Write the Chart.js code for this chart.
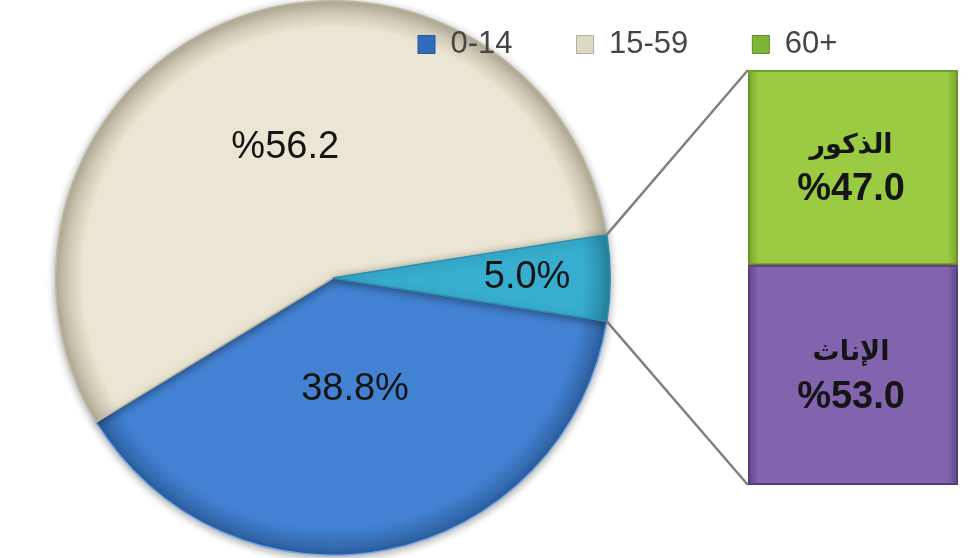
<!DOCTYPE html>
<html><head><meta charset="utf-8">
<script src="https://cdn.jsdelivr.net/npm/chart.js@4.4.1/dist/chart.umd.min.js"></script>
<style>
html,body{margin:0;padding:0;background:#fff;overflow:hidden}
#wrap{position:relative;width:970px;height:558px}
#wrap canvas{position:absolute;left:0;top:0}
</style></head><body>
<div id="wrap"><canvas id="pie" width="970" height="558"></canvas><canvas id="bar" width="970" height="558"></canvas></div>
<script>
// ---- data ----
const ageGroups = ['0-14', '15-59', '60+'];
const ageShares = [38.8, 56.2, 5.0];
const sexGroups = ['الإناث', 'الذكور'];
const sexShares = [53.0, 47.0];

// ---- styles ----
const pieColors = ['#4382d2', '#ebe6d3', '#37aecf'];
const pieRim = ['#2c5e9f', '#b4ae98', '#25829d'];
const pieBorders = ['#6fa6ea', '#bfb9a2', '#2a8fae'];
const legendColors = ['#2f6cbc', '#dcd8c6', '#7db534'];
const legendBorders = ['#25589b', '#b5b09c', '#5f8c25'];
const barColors = ['#8263ad', '#9bcb42'];
const barEdge = ['#5e4586', '#76a22c'];
const barTop = ['#a188c6', '#b6df62'];
const pieLabelRadius = [0.41, 0.5, 0.70];
const pieSignFirst = [false, true, false];
const FONT = '"Liberation Sans", Arial, sans-serif';

function fmt(v, signFirst) { return signFirst ? '%' + v.toFixed(1) : v.toFixed(1) + '%'; }

const pieShadow = {
  id: 'pieShadow',
  beforeDatasetsDraw(chart) {
    const c = chart.ctx; c.save();
    c.shadowColor = 'rgba(0,0,0,0.35)'; c.shadowBlur = 9; c.shadowOffsetX = 0; c.shadowOffsetY = 2;
  },
  afterDatasetsDraw(chart) {
    const c = chart.ctx; c.restore();
    const meta = chart.getDatasetMeta(0);
    c.save();
    c.font = '38px ' + FONT; c.fillStyle = '#141414'; c.textAlign = 'center'; c.textBaseline = 'middle';
    meta.data.forEach((arc, i) => {
      const p = arc.getProps(['x', 'y', 'startAngle', 'endAngle', 'outerRadius'], true);
      const mid = (p.startAngle + p.endAngle) / 2;
      const r = p.outerRadius * pieLabelRadius[i];
      c.fillText(fmt(ageShares[i], pieSignFirst[i]), p.x + r * Math.cos(mid), p.y + r * Math.sin(mid));
    });
    c.restore();
  }
};

const pieChart = new Chart(document.getElementById('pie'), {
  type: 'pie',
  data: {
    labels: ageGroups,
    datasets: [{
      data: ageShares,
      backgroundColor: (ctx) => {
        const a = ctx.chart.chartArea; const i = ctx.dataIndex;
        if (!a) return pieColors[i];
        const cx = (a.left + a.right) / 2, cy = (a.top + a.bottom) / 2;
        const R = Math.min(a.right - a.left, a.bottom - a.top) / 2;
        const g = ctx.chart.ctx.createRadialGradient(cx, cy, 0, cx, cy, R);
        g.addColorStop(0, pieColors[i]);
        g.addColorStop(0.9, pieColors[i]);
        g.addColorStop(1, pieRim[i]);
        return g;
      },
      borderColor: pieBorders,
      borderWidth: 1.5
    }]
  },
  options: {
    responsive: false, animation: false, devicePixelRatio: 1,
    rotation: 99,
    layout: { padding: { left: 55, right: 359, top: 0, bottom: 2 } },
    plugins: { legend: { display: false }, tooltip: { enabled: false } }
  },
  plugins: [pieShadow]
});

const barExtras = {
  id: 'barExtras',
  beforeDatasetsDraw(chart) {
    const c = chart.ctx;
    const arc = pieChart.getDatasetMeta(0).data[2].getProps(['x', 'y', 'startAngle', 'endAngle', 'outerRadius'], true);
    const top = chart.getDatasetMeta(1).data[0].getProps(['x', 'y', 'width'], true);
    const bot = chart.getDatasetMeta(0).data[0].getProps(['x', 'base', 'width'], true);
    c.save();
    c.strokeStyle = '#808080'; c.lineWidth = 2.5;
    c.beginPath();
    c.moveTo(arc.x + arc.outerRadius * Math.cos(arc.startAngle), arc.y + arc.outerRadius * Math.sin(arc.startAngle));
    c.lineTo(top.x - top.width / 2, top.y);
    c.moveTo(arc.x + arc.outerRadius * Math.cos(arc.endAngle), arc.y + arc.outerRadius * Math.sin(arc.endAngle));
    c.lineTo(bot.x - bot.width / 2, bot.base);
    c.stroke();
    c.restore();
    c.save();
    c.shadowColor = 'rgba(0,0,0,0.35)'; c.shadowBlur = 8; c.shadowOffsetY = 2;
  },
  afterDatasetsDraw(chart) {
    const c = chart.ctx; c.restore();
    c.save();
    c.fillStyle = '#151515'; c.textAlign = 'center'; c.textBaseline = 'middle';
    chart.data.datasets.forEach((ds, i) => {
      const el = chart.getDatasetMeta(i).data[0].getProps(['x', 'y', 'base'], true);
      const cy = (el.y + el.base) / 2;
      c.font = 'bold 27px "DejaVu Sans", ' + FONT;
      c.fillText(sexGroups[i], el.x - 2, cy - 22);
      c.font = 'bold 38px ' + FONT;
      c.fillText(fmt(sexShares[i], true), el.x - 2, cy + 22);
    });
    c.restore();
  }
};

function barGrad(i) {
  return (ctx) => {
    const a = ctx.chart.chartArea;
    if (!a) return barColors[i];
    const g = ctx.chart.ctx.createLinearGradient(a.left, 0, a.right, 0);
    g.addColorStop(0, barEdge[i]);
    g.addColorStop(0.05, barColors[i]);
    g.addColorStop(0.95, barColors[i]);
    g.addColorStop(1, barEdge[i]);
    return g;
  };
}

const barChart = new Chart(document.getElementById('bar'), {
  type: 'bar',
  data: {
    labels: [ageGroups[2]],
    datasets: sexGroups.map((s, i) => ({
      label: s,
      data: [sexShares[i]],
      backgroundColor: barGrad(i),
      borderColor: barEdge[i],
      borderWidth: 2,
      borderSkipped: false,
      barPercentage: 1,
      categoryPercentage: 1
    }))
  },
  options: {
    responsive: false, animation: false, devicePixelRatio: 1,
    layout: { padding: { left: 354, right: 12, top: -35, bottom: 73 } },
    plugins: {
      tooltip: { enabled: false },
      legend: {
        display: true, position: 'top', align: 'start', onClick: null,
        labels: {
          boxWidth: 17, boxHeight: 18, padding: 64, color: '#454545',
          font: { family: FONT, size: 31 },
          generateLabels: () => ageGroups.map((t, i) => ({
            text: t, fillStyle: legendColors[i], strokeStyle: legendBorders[i], lineWidth: 1,
            fontColor: '#454545', hidden: false, index: i
          }))
        }
      }
    },
    scales: {
      x: { stacked: true, display: false },
      y: {
        stacked: true, min: 0, max: 100, display: true,
        grid: { display: false }, border: { display: false }, ticks: { display: false },
        afterFit: (s) => { s.width = 394; }
      }
    }
  },
  plugins: [barExtras]
});
</script>
</body></html>
